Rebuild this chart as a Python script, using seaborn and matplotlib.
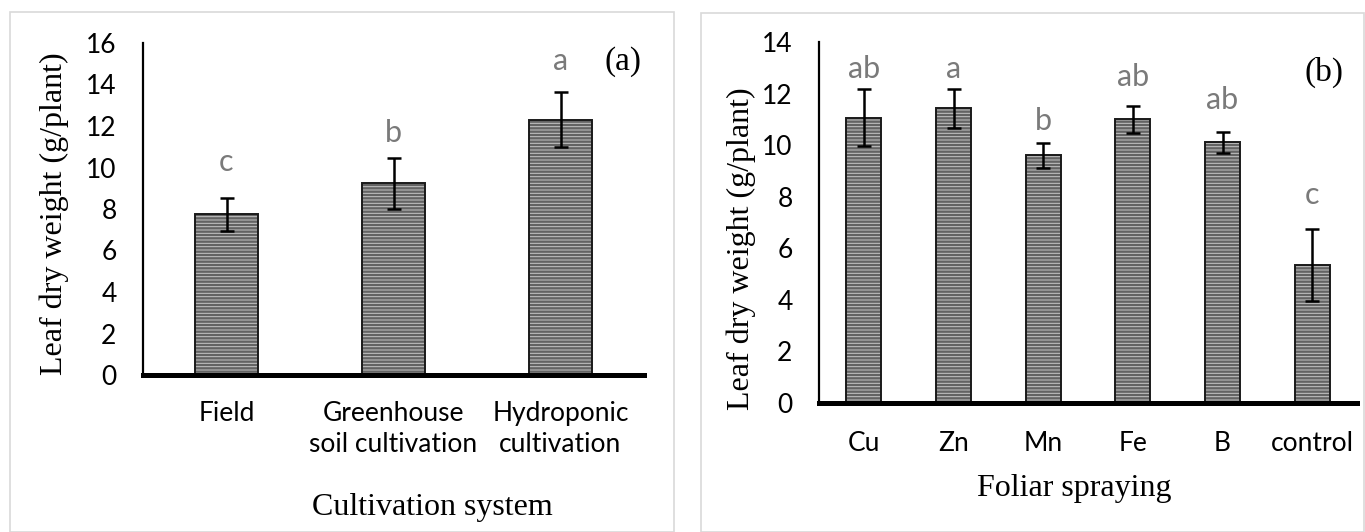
import matplotlib
matplotlib.use("Agg")
import matplotlib.pyplot as plt
import seaborn as sns
import numpy as np
import pandas as pd
from matplotlib.patches import Rectangle

# ---------------- data ----------------
cat_a = ["Field", "Greenhouse\nsoil cultivation", "Hydroponic\ncultivation"]
val_a = [7.74, 9.25, 12.3]
low_a = [6.92, 8.0, 10.98]
high_a = [8.52, 10.46, 13.64]
let_a = ["c", "b", "a"]
let_y_a = [9.85, 11.24, 14.69]

cat_b = ["Cu", "Zn", "Mn", "Fe", "B", "control"]
val_b = [11.07, 11.43, 9.6, 11.0, 10.11, 5.37]
low_b = [9.95, 10.66, 9.10, 10.48, 9.69, 3.95]
high_b = [12.19, 12.19, 10.08, 11.53, 10.52, 6.76]
let_b = ["ab", "a", "b", "ab", "ab", "c"]
let_y_b = [12.59, 12.59, 10.57, 12.29, 11.4, 7.71]

yticks_a = [0, 2, 4, 6, 8, 10, 12, 14, 16]
yticks_b = [0, 2, 4, 6, 8, 10, 12, 14]

# ---------------- style ----------------
sns.set_theme(style="white")
plt.rcParams["font.family"] = ["Lato", "DejaVu Sans"]
plt.rcParams["hatch.linewidth"] = 1.7
SERIF = ["Liberation Serif", "DejaVu Serif"]

W, H = 1365, 532
fig = plt.figure(figsize=(W / 100, H / 100), dpi=100)

# panel borders
fig.add_artist(Rectangle((10 / W, 0), 664 / W, 1 - 12 / H, transform=fig.transFigure,
                         fill=False, edgecolor="#d9d9d9", linewidth=1.2))
fig.add_artist(Rectangle((701 / W, 0), 663 / W, 1 - 13 / H, transform=fig.transFigure,
                         fill=False, edgecolor="#d9d9d9", linewidth=1.2))


def panel(rect, cats, vals, lows, highs, letters, let_y, yticks, width,
          xlabel, xl_pos, yl_pos, tag, tag_pos, xpad):
    ax = fig.add_axes(rect)
    df = pd.DataFrame({"cat": cats, "val": vals})
    sns.barplot(data=df, x="cat", y="val", ax=ax, color="#c6c6c6", saturation=1,
                width=width, hatch="-----", edgecolor="#636363", linewidth=0,
                errorbar=None)
    sns.barplot(data=df, x="cat", y="val", ax=ax, color="#1a1a1a", saturation=1,
                width=width, fill=False, linewidth=1.4, errorbar=None)
    xs = np.arange(len(cats))
    v = np.array(vals)
    yerr = [v - np.array(lows), np.array(highs) - v]
    ax.errorbar(xs, v, yerr=yerr, fmt="none", ecolor="black", elinewidth=1.8,
                capsize=5, capthick=1.8, zorder=5)
    for x, t, y in zip(xs, letters, let_y):
        ax.text(x, y, t, ha="center", va="baseline", color="#7a7a7a", fontsize=22)
    ax.set_ylim(0, yticks[-1])
    ax.set_xlim(-0.5, len(cats) - 0.5)
    ax.set_yticks(yticks)
    ax.set_yticklabels([str(t) for t in yticks])
    ax.tick_params(axis="both", length=0, labelsize=19, colors="black")
    ax.tick_params(axis="y", pad=19)
    ax.tick_params(axis="x", pad=xpad)
    for lab in ax.get_xticklabels():
        lab.set_linespacing(1.3)
    for s in ["top", "right"]:
        ax.spines[s].set_visible(False)
    ax.spines["left"].set_linewidth(1.6)
    ax.spines["left"].set_color("black")
    ax.spines["bottom"].set_linewidth(3.6)
    ax.spines["bottom"].set_color("black")
    ax.spines["bottom"].set_zorder(6)
    ax.set_xlabel(xlabel, fontsize=23, family=SERIF, color="black")
    ax.xaxis.set_label_coords(*xl_pos)
    ax.xaxis.label.set_verticalalignment("center")
    ax.set_ylabel("Leaf dry weight (g/plant)", fontsize=23, family=SERIF, color="black")
    ax.yaxis.set_label_coords(*yl_pos)
    ax.yaxis.label.set_verticalalignment("center")
    ax.text(tag_pos[0], tag_pos[1], tag, transform=ax.transAxes, ha="center",
            va="center", fontsize=24, family=SERIF, color="black")
    return ax


panel([143 / W, 1 - 375 / H, 501 / W, 332 / H], cat_a, val_a, low_a, high_a,
      let_a, let_y_a, yticks_a, 0.377, "Cultivation system",
      (0.577, -0.398), (-0.178, 0.485), "(a)", (0.958, 0.943), 19)

panel([819 / W, 1 - 403 / H, 538 / W, 361 / H], cat_b, val_b, low_b, high_b,
      let_b, let_y_b, yticks_b, 0.39, "Foliar spraying",
      (0.474, -0.2355), (-0.145, 0.4266), "(b)", (0.9387, 0.917), 20)

fig.savefig("out.png", dpi=100)
